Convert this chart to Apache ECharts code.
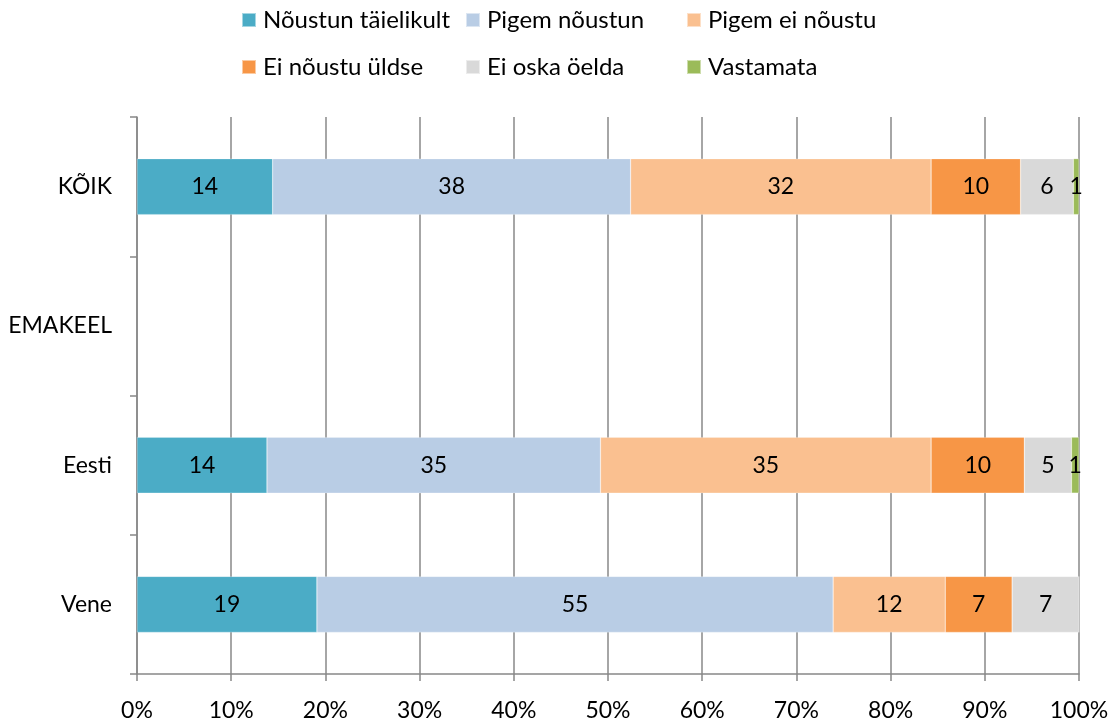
<!DOCTYPE html>
<html>
<head>
<meta charset="utf-8">
<script src="https://cdn.jsdelivr.net/npm/echarts@6/dist/echarts.min.js"></script>
<style>
  html, body { margin: 0; padding: 0; background: #fff; }
  #chart { width: 1114px; height: 722px; }
</style>
</head>
<body>
<div id="chart"></div>
<script>
// categories, top to bottom
let groups = ['KÕIK', 'EMAKEEL', 'Eesti', 'Vene'];
let answers = ['Nõustun täielikult', 'Pigem nõustun', 'Pigem ei nõustu',
               'Ei nõustu üldse', 'Ei oska öelda', 'Vastamata'];
let colors = ['#4BACC6', '#B9CDE5', '#FAC090', '#F79646', '#D9D9D9', '#9BBB59'];

// percent per answer, in order of groups (EMAKEEL has no bar)
let noustunTaielikult = [14.4, null, 13.8, 19.1];
let pigemNoustun      = [38.0, null, 35.4, 54.8];
let pigemEiNoustu     = [31.9, null, 35.1, 11.9];
let eiNoustuUldse     = [9.5,  null, 9.9,  7.1];
let eiOskaOelda       = [5.6,  null, 5.0,  7.1];
let vastamata         = [0.6,  null, 0.8,  0];

let xTicks = [0, 10, 20, 30, 40, 50, 60, 70, 80, 90, 100];

let values = [noustunTaielikult, pigemNoustun, pigemEiNoustu, eiNoustuUldse, eiOskaOelda, vastamata];

let font = 'Lato, "Open Sans", sans-serif';
let fs = 23;
let gray = '#888888';

// legend laid out as two rows of three, columns lined up
let legendPos = [[241, 8], [465, 8], [686, 8], [241, 55], [465, 55], [686, 55]];

var dom = document.getElementById('chart');
var myChart = echarts.init(dom);

option = {
  animation: false,
  textStyle: { fontFamily: font },
  legend: answers.map((a, i) => ({
    data: [a],
    left: legendPos[i][0],
    top: legendPos[i][1],
    padding: 0,
    icon: 'rect',
    itemWidth: 14,
    itemHeight: 14,
    textStyle: { fontSize: 24, lineHeight: 24, color: '#000', fontFamily: font, padding: [0, 0, 0, 2] }
  })),
  grid: { left: 137, right: 35, top: 117, bottom: 48, containLabel: false },
  xAxis: {
    type: 'value',
    min: xTicks[0],
    max: xTicks[xTicks.length - 1],
    interval: 10,
    axisLine: { show: true, lineStyle: { color: gray, width: 1.5 } },
    axisTick: { show: true, length: 7, lineStyle: { color: gray, width: 1.5 } },
    axisLabel: { formatter: '{value}%', fontSize: fs, color: '#000', margin: 25, fontFamily: font },
    splitLine: { show: true, lineStyle: { color: gray, width: 1.5 } }
  },
  yAxis: {
    type: 'category',
    data: groups,
    inverse: true,
    axisLine: { show: true, lineStyle: { color: gray, width: 1.5 } },
    axisTick: { show: true, length: 7, lineStyle: { color: gray, width: 1.5 } },
    axisLabel: { fontSize: fs, color: '#000', margin: 25, fontFamily: font },
    splitLine: { show: false }
  },
  series: answers.map((a, i) => ({
    name: a,
    type: 'bar',
    stack: 'total',
    barWidth: 56,
    itemStyle: { color: colors[i], borderColor: 'rgba(255,255,255,0.5)', borderWidth: 0.5 },
    label: {
      show: true,
      position: 'inside',
      color: '#000',
      fontSize: fs,
      fontFamily: font,
      formatter: p => (p.value ? Math.round(p.value) : '')
    },
    data: values[i]
  }))
};

if (option && typeof option === 'object') {
  myChart.setOption(option, true);
}
</script>
</body>
</html>
